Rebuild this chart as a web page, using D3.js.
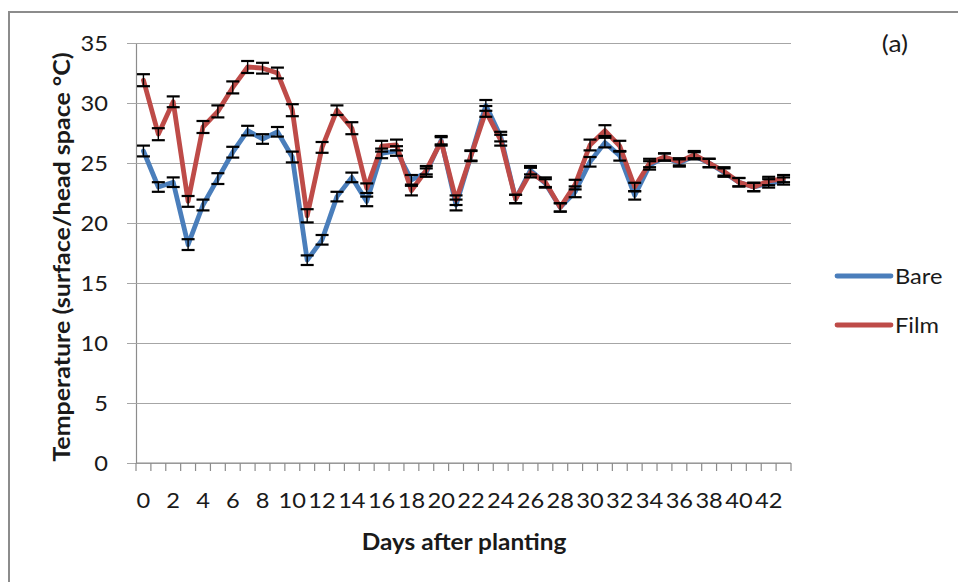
<!DOCTYPE html>
<html>
<head>
<meta charset="utf-8">
<script src="https://cdn.jsdelivr.net/npm/d3@7"></script>
<style>
  html, body { margin: 0; padding: 0; background: #fff; }
  svg { display: block; font-family: Lato, "Open Sans", sans-serif; }
</style>
</head>
<body>
<svg id="chart" width="958" height="582"></svg>
<script>
// Days after planting (0..43), labelled every second day
const days = d3.range(0, 44);
const yTicks = [0, 5, 10, 15, 20, 25, 30, 35];

// Mean temperature (°C) per day for each treatment
const bare = [26.0, 23.0, 23.4, 18.2, 21.5, 23.7, 25.9, 27.7, 27.0, 27.6,
              25.5, 16.9, 18.6, 22.2, 23.8, 21.8, 25.8, 26.0, 23.6, 24.2,
              26.9, 21.5, 25.6, 29.8, 27.2, 22.0, 24.4, 23.3, 21.3, 22.6,
              25.1, 26.7, 25.6, 22.3, 24.8, 25.5, 25.0, 25.6, 25.0, 24.2,
              23.4, 23.0, 23.3, 23.5];
const film = [31.9, 27.4, 30.1, 21.8, 28.0, 29.3, 31.3, 33.0, 32.9, 32.5,
              29.4, 20.6, 26.3, 29.4, 27.9, 22.9, 26.4, 26.5, 22.7, 24.4,
              26.8, 21.9, 25.6, 29.3, 26.9, 22.0, 24.2, 23.4, 21.3, 23.2,
              26.5, 27.7, 26.4, 23.0, 25.0, 25.5, 25.1, 25.7, 25.0, 24.3,
              23.4, 23.0, 23.5, 23.7];

// Standard error of each mean
const bareErr = [0.45, 0.4, 0.4, 0.45, 0.45, 0.45, 0.45, 0.4, 0.4, 0.4,
                 0.45, 0.4, 0.4, 0.4, 0.4, 0.4, 0.4, 0.4, 0.4, 0.35,
                 0.35, 0.45, 0.4, 0.45, 0.4, 0.35, 0.35, 0.35, 0.35, 0.45,
                 0.4, 0.4, 0.4, 0.35, 0.35, 0.3, 0.3, 0.3, 0.35, 0.35,
                 0.35, 0.35, 0.35, 0.3];
const filmErr = [0.5, 0.5, 0.45, 0.45, 0.5, 0.5, 0.5, 0.5, 0.45, 0.45,
                 0.5, 0.55, 0.45, 0.4, 0.5, 0.4, 0.45, 0.45, 0.4, 0.35,
                 0.35, 0.4, 0.45, 0.45, 0.45, 0.35, 0.4, 0.4, 0.35, 0.4,
                 0.45, 0.45, 0.45, 0.35, 0.35, 0.3, 0.3, 0.3, 0.35, 0.35,
                 0.35, 0.35, 0.35, 0.3];

const seriesNames = ["Bare", "Film"];
const seriesColors = ["#4a7ebb", "#be4b48"];

const svg = d3.select("#chart");
const plot = { left: 136, right: 791, top: 43, bottom: 463 };
const textColor = "#1a1a1a";
const stretch = 1.1;   // slightly wide lettering

const x = d3.scaleBand().domain(days).range([plot.left, plot.right]).padding(0);
const y = d3.scaleLinear().domain([0, 35]).range([plot.bottom, plot.top]);
const cx = d => x(d) + x.bandwidth() / 2;

// Text placed at (px, py), widened horizontally around its anchor
function label(parent, px, py, str, opts) {
  const o = Object.assign({ size: 21.5, anchor: "start", weight: "normal", rotate: 0 }, opts);
  return parent.append("text")
    .attr("transform", `translate(${px},${py}) rotate(${o.rotate}) scale(${stretch},1)`)
    .attr("text-anchor", o.anchor)
    .attr("font-size", o.size)
    .attr("font-weight", o.weight)
    .attr("fill", textColor)
    .text(str);
}

// Outer chart frame
svg.append("rect")
  .attr("x", 9).attr("y", 12)
  .attr("width", 1000).attr("height", 700)
  .attr("fill", "none").attr("stroke", "#8c8c8c").attr("stroke-width", 2);

// Horizontal gridlines with short outside ticks
const yAxis = d3.axisLeft(y).tickValues(yTicks)
  .tickSize(-(plot.right - plot.left)).tickSizeOuter(0).tickFormat("");
const gy = svg.append("g").attr("transform", `translate(${plot.left},0)`).call(yAxis);
gy.select(".domain").attr("stroke", "#8c8c8c").attr("stroke-width", 1.2);
gy.selectAll(".tick line").attr("stroke", "#a6a6a6").attr("stroke-width", 1.2)
  .attr("x1", -9);
const gyl = svg.append("g");
yTicks.forEach(t => label(gyl, 108, y(t) + 7.8, String(t), { anchor: "end" }));

// Category axis: boundary ticks, labels every second day
const gx = svg.append("g").attr("transform", `translate(0,${plot.bottom})`);
gx.append("line").attr("x1", plot.left).attr("x2", plot.right)
  .attr("stroke", "#8c8c8c").attr("stroke-width", 1.2);
const bounds = d3.range(0, days.length + 1).map(i => plot.left + i * x.bandwidth());
gx.selectAll("line.tk").data(bounds).join("line").attr("class", "tk")
  .attr("x1", d => d).attr("x2", d => d).attr("y1", 0).attr("y2", 8)
  .attr("stroke", "#8c8c8c").attr("stroke-width", 1.2);
days.filter(d => d % 2 === 0).forEach(d =>
  label(gx, cx(d), 45, String(d), { anchor: "middle" }));

// Axis titles
label(svg, 70, 257, "Temperature (surface/head space °C)",
  { anchor: "middle", size: 22, weight: "bold", rotate: -90 })
  .attr("textLength", 372).attr("lengthAdjust", "spacingAndGlyphs");
label(svg, 464, 550, "Days after planting",
  { anchor: "middle", size: 22, weight: "bold" })
  .attr("textLength", 186).attr("lengthAdjust", "spacingAndGlyphs");

// Panel letter
label(svg, 895, 52, "(a)", { anchor: "middle", size: 24 });

// Series lines
const series = [
  { name: seriesNames[0], color: seriesColors[0], values: bare, err: bareErr },
  { name: seriesNames[1], color: seriesColors[1], values: film, err: filmErr }
];
const line = d3.line().x((v, i) => cx(days[i])).y(v => y(v));
series.forEach(s => {
  svg.append("path").datum(s.values)
    .attr("d", line).attr("fill", "none")
    .attr("stroke", s.color).attr("stroke-width", 4.8)
    .attr("stroke-linejoin", "round").attr("stroke-linecap", "round");
});

// Error bars
series.forEach(s => {
  const g = svg.append("g").attr("stroke", "#000");
  s.values.forEach((v, i) => {
    const px = cx(days[i]);
    const hi = y(v + s.err[i]), lo = y(v - s.err[i]);
    g.append("line").attr("x1", px).attr("x2", px).attr("y1", hi).attr("y2", lo)
      .attr("stroke-width", 1.4);
    [hi, lo].forEach(py => {
      g.append("line").attr("x1", px - 6.5).attr("x2", px + 6.5)
        .attr("y1", py).attr("y2", py).attr("stroke-width", 2.2);
    });
  });
});

// Legend
const legendY = [276, 325];
series.forEach((s, i) => {
  svg.append("line").attr("x1", 837).attr("x2", 891)
    .attr("y1", legendY[i]).attr("y2", legendY[i])
    .attr("stroke", s.color).attr("stroke-width", 4.8).attr("stroke-linecap", "round");
  label(svg, 895, legendY[i] + 7.8, s.name);
});
</script>
</body>
</html>
